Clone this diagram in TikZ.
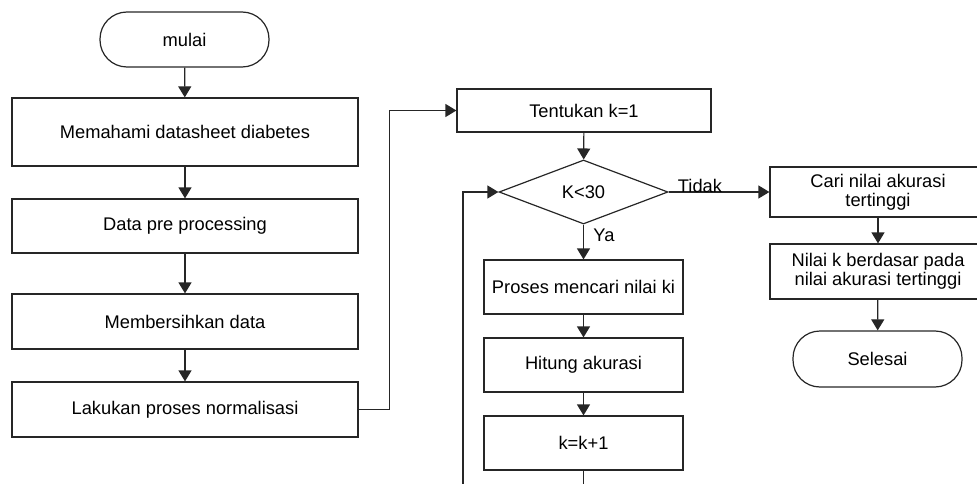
\documentclass[tikz,border=0pt]{standalone}
\usepackage{fontspec}
\setmainfont{Liberation Sans}
\usetikzlibrary{arrows.meta,shapes.geometric}
\begin{document}
\begin{tikzpicture}[x=1pt,y=-1pt,
  every node/.style={font=\fontsize{18.3}{22}\selectfont, text=black},
  ln/.style={draw=black!85, line width=1.2pt},
  arr/.style={ln, -{Triangle[width=13pt,length=11pt]}},
  procbox/.style={ln, rectangle, inner sep=0pt, align=center},
  term/.style={ln, rectangle, rounded corners=27pt, inner sep=0pt},
  decis/.style={ln, diamond, inner sep=0pt}]
\useasboundingbox (0,0) rectangle (977,484);
\clip (0,0) rectangle (977,484);
% left column
\node[term, minimum width=169pt, minimum height=55pt] (m) at (184.5,39.5) {mulai};
\node[procbox, minimum width=346pt, minimum height=68pt] (b1) at (185,132) {Memahami datasheet diabetes};
\node[procbox, minimum width=346pt, minimum height=54pt] (b2) at (185,226) {Data pre processing};
\node[procbox, minimum width=346pt, minimum height=55pt] (b3) at (185,321.5) {Membersihkan data};
\node[procbox, minimum width=346pt, minimum height=55pt] (b4) at (185,409.5) {Lakukan proses normalisasi};
% middle column
\node[procbox, minimum width=254pt, minimum height=43pt] (t) at (584,110.5) {Tentukan k=1};
\node[decis, minimum width=169pt, minimum height=64pt] (d) at (583.5,192) {K<30};
\node[procbox, minimum width=199pt, minimum height=54pt] (p) at (583.5,287) {Proses mencari nilai ki};
\node[procbox, minimum width=199pt, minimum height=54pt] (h) at (583.5,365) {Hitung akurasi};
\node[procbox, minimum width=199pt, minimum height=54pt] (k) at (583.5,443) {k=k+1};
% right column
\node[procbox, minimum width=216pt, minimum height=50pt] (c) at (878,192) {Cari nilai akurasi\\[-3pt]tertinggi};
\node[procbox, minimum width=216pt, minimum height=55pt] (n) at (878,271.5) {Nilai k berdasar pada\\[-3pt]nilai akurasi tertinggi};
\node[term, minimum width=169pt, minimum height=56pt] (s) at (877.5,359) {Selesai};
% connectors
\draw[arr] (m) -- (b1);
\draw[arr] (b1) -- (b2);
\draw[arr] (b2) -- (b3);
\draw[arr] (b3) -- (b4);
\coordinate (up) at (389.5,409.5);
\draw[arr] (b4.east) -- (up) |- (t.west);
\draw[arr] (t) -- (d);
\draw[arr] (d.south) -- (p.north);
\node at (604,235) {Ya};
\draw[arr] (p) -- (h);
\draw[arr] (h) -- (k);
\coordinate (loop) at (463,520);
\draw[arr] (k.south) |- (loop) |- (d.west);
\draw[arr] (d.east) -- (c.west);
\node at (700,186) {Tidak};
\draw[arr] (c) -- (n);
\draw[arr] (n) -- (s);
\end{tikzpicture}
\end{document}
